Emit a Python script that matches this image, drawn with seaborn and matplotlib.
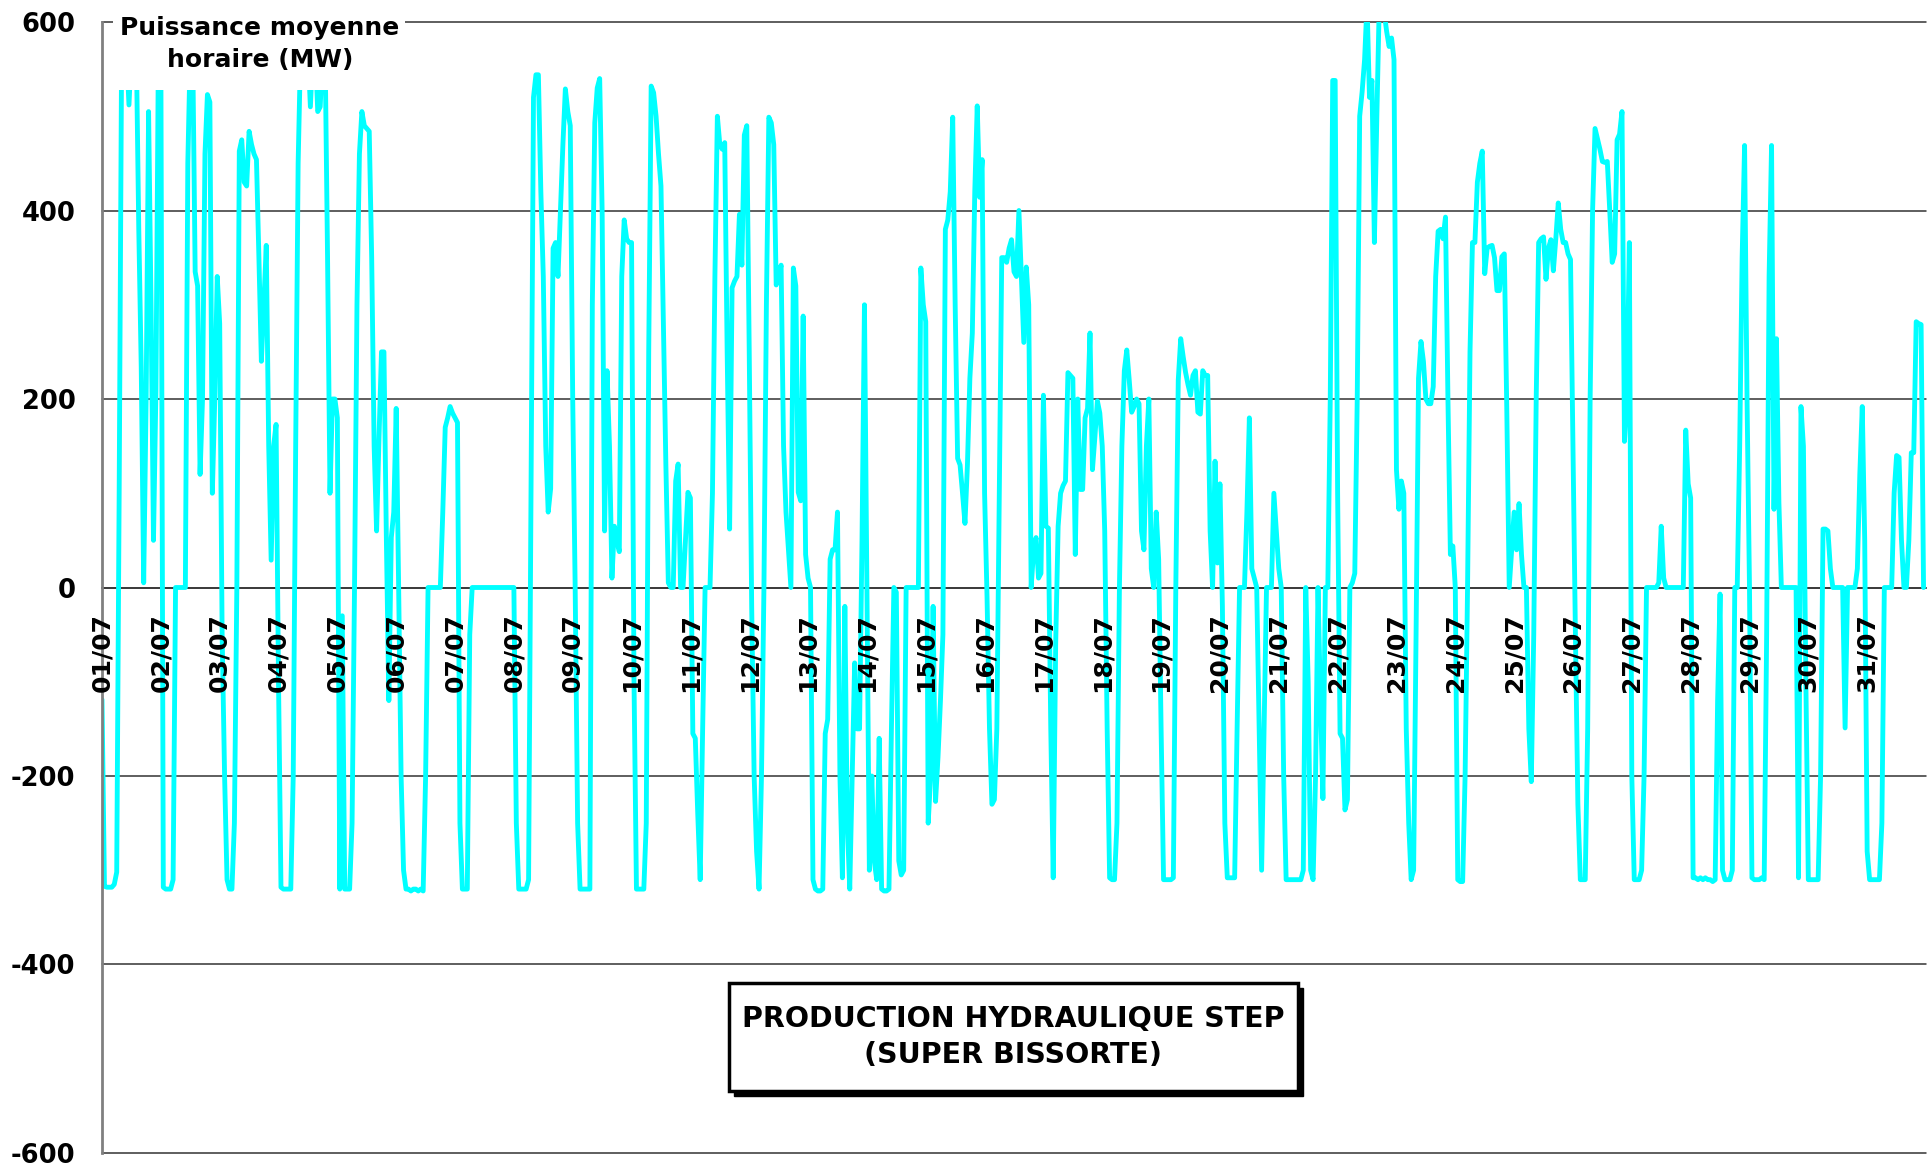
import matplotlib

matplotlib.use("Agg")
import matplotlib.pyplot as plt
import numpy as np
import pandas as pd
import seaborn as sns
from matplotlib.patches import Rectangle

# Hourly mean power (MW), July, one list per day (24 values)
jul01 = [-119, -317, -318, -318, -318, -315, -302, 100, 570, 570, 570, 512,
         570, 570, 570, 380, 234, 5, 200, 505, 300, 50, 210, 570]
jul02 = [570, -318, -320, -320, -320, -310, 0, 0, 0, 0, 0, 450,
         570, 570, 335, 320, 120, 200, 460, 523, 515, 100, 200, 330]
jul03 = [280, -50, -200, -310, -320, -320, -250, 0, 463, 475, 430, 426,
         484, 470, 460, 454, 350, 240, 300, 363, 150, 29, 150, 173]
jul04 = [-100, -318, -320, -320, -320, -320, -200, 150, 450, 570, 570, 570,
         570, 510, 570, 570, 505, 510, 570, 570, 350, 100, 200, 200]
jul05 = [180, -320, -30, -320, -320, -320, -250, 0, 300, 460, 505, 490,
         487, 484, 350, 150, 60, 160, 250, 250, 50, -120, 53, 80]
jul06 = [190, 0, -200, -300, -320, -320, -322, -320, -320, -322, -320, -322,
         -200, 0, 0, 0, 0, 0, 0, 80, 170, 180, 192, 185]
jul07 = [180, 175, -250, -320, -320, -320, -50, 0, 0, 0, 0, 0,
         0, 0, 0, 0, 0, 0, 0, 0, 0, 0, 0, 0]
jul08 = [0, -250, -320, -320, -320, -320, -310, 100, 520, 544, 544, 420,
         330, 150, 80, 105, 360, 366, 330, 400, 470, 529, 505, 490]
jul09 = [200, 0, -250, -320, -320, -320, -320, -320, 300, 493, 530, 540,
         400, 60, 230, 150, 10, 65, 50, 38, 330, 390, 370, 366]
jul10 = [366, -100, -320, -320, -320, -320, -250, 250, 532, 525, 500, 460,
         426, 280, 130, 5, 0, 0, 113, 131, 0, 0, 50, 101]
jul11 = [95, -155, -160, -240, -310, -150, 0, 0, 0, 100, 330, 500,
         470, 465, 472, 250, 62, 318, 325, 330, 396, 342, 480, 490]
jul12 = [250, -20, -200, -280, -320, -200, 0, 300, 499, 493, 470, 321,
         330, 342, 150, 80, 40, 0, 339, 320, 101, 92, 288, 35]
jul13 = [10, 0, -310, -320, -322, -322, -320, -155, -140, 30, 40, 40,
         80, -200, -308, -20, -250, -320, -200, -80, -150, -150, 50, 300]
jul14 = [0, -300, -200, -290, -310, -160, -320, -322, -322, -320, -150, 0,
         -5, -290, -305, -300, 0, 0, 0, 0, 0, 0, 339, 300]
jul15 = [282, -250, -200, -20, -227, -180, -120, -50, 380, 390, 420, 499,
         300, 137, 130, 100, 68, 130, 222, 270, 420, 511, 414, 454]
jul16 = [100, -10, -150, -230, -225, -150, 100, 350, 350, 345, 360, 369,
         335, 330, 400, 330, 260, 340, 300, 0, 40, 53, 10, 15]
jul17 = [204, 65, 63, -150, -308, -60, 65, 100, 108, 113, 228, 225,
         222, 35, 200, 104, 104, 180, 190, 270, 125, 160, 198, 185]
jul18 = [150, 60, -150, -308, -310, -310, -250, 0, 150, 230, 252, 220,
         186, 192, 200, 195, 60, 40, 150, 200, 20, 0, 80, 30]
jul19 = [-150, -310, -310, -310, -310, -308, 0, 220, 264, 245, 228, 215,
         204, 225, 230, 186, 184, 230, 225, 225, 60, 0, 134, 26]
jul20 = [110, -20, -250, -308, -308, -308, -308, -150, 0, 0, 0, 80,
         180, 20, 10, 0, -150, -300, -150, 0, 0, 0, 100, 60]
jul21 = [20, 0, -200, -310, -310, -310, -310, -310, -310, -310, -300, 0,
         -100, -300, -310, -200, 0, -120, -224, 0, 0, 200, 538, 538]
jul22 = [100, -155, -160, -236, -225, 0, 5, 15, 200, 500, 526, 560,
         620, 520, 538, 366, 500, 620, 620, 610, 590, 574, 583, 560]
jul23 = [125, 83, 113, 100, -150, -250, -310, -300, -50, 222, 261, 240,
         200, 195, 195, 213, 330, 378, 380, 370, 393, 200, 35, 44]
jul24 = [0, -310, -312, -312, -200, 0, 250, 366, 366, 430, 450, 463,
         333, 360, 362, 363, 350, 315, 315, 351, 354, 190, 0, 40]
jul25 = [80, 40, 89, 35, 0, 0, -150, -206, -50, 200, 366, 370,
         372, 327, 360, 369, 336, 370, 408, 380, 366, 366, 354, 348]
jul26 = [150, -50, -230, -310, -310, -310, -150, 200, 400, 487, 476, 465,
         452, 451, 452, 400, 345, 354, 475, 481, 505, 155, 200, 366]
jul27 = [-200, -310, -310, -310, -300, -200, 0, 0, 0, 0, 0, 5,
         65, 10, 0, 0, 0, 0, 0, 0, 0, 0, 167, 110]
jul28 = [95, -308, -308, -310, -308, -310, -308, -310, -310, -312, -310, -120,
         -7, -300, -310, -310, -310, -300, 0, 0, 150, 350, 469, 200]
jul29 = [0, -308, -310, -310, -310, -308, -310, -50, 330, 469, 83, 264,
         90, 0, 0, 0, 0, 0, 0, 0, -308, 192, 150, -100]
jul30 = [-310, -310, -310, -310, -310, -200, 62, 62, 60, 20, 0, 0,
         0, 0, 0, -149, 0, 0, 0, 0, 20, 120, 192, 50]
jul31 = [-280, -310, -310, -310, -310, -310, -250, 0, 0, 0, 0, 100,
         140, 138, 50, 0, 0, 50, 143, 143, 282, 280, 279, 0]

days = [jul01, jul02, jul03, jul04, jul05, jul06, jul07, jul08, jul09, jul10,
        jul11, jul12, jul13, jul14, jul15, jul16, jul17, jul18, jul19, jul20,
        jul21, jul22, jul23, jul24, jul25, jul26, jul27, jul28, jul29, jul30,
        jul31]
day_labels = [f"{d:02d}/07" for d in range(1, 32)]
y_ticks = [-600, -400, -200, 0, 200, 400, 600]

power = np.concatenate(days)
df = pd.DataFrame({"hour": np.arange(len(power)), "mw": power})

sns.set_style("white")
plt.rcParams["font.family"] = ["DejaVu Sans"]
plt.rcParams["font.weight"] = "bold"
plt.rcParams["text.color"] = "black"
plt.rcParams["axes.unicode_minus"] = False

fig = plt.figure(figsize=(19.33, 11.76), dpi=100)
ax = fig.add_axes([0.05277, 0.01956, 0.94361, 0.96173])

sns.lineplot(data=df, x="hour", y="mw", color="#00FFFF", linewidth=3.5,
             estimator=None, ax=ax, zorder=2)

ax.set_xlim(0, 24 * len(days))
ax.set_ylim(-600, 600)
ax.set_yticks(y_ticks)
ax.set_yticklabels([str(v) for v in y_ticks])
ax.set_xticks(np.arange(0, 24 * len(days) + 1, 24))
ax.set_xticklabels(day_labels + [""])
ax.set_xlabel("")
ax.set_ylabel("")

# grid below the curve, date labels above it
ax.set_axisbelow(True)
ax.yaxis.grid(True, color="#333333", linewidth=1.1)
ax.xaxis.grid(False)
ax.xaxis.set_zorder(3)
for gl in ax.get_ygridlines():
    gl.set_clip_on(False)

for side in ["top", "right"]:
    ax.spines[side].set_visible(False)
ax.spines["bottom"].set_position(("data", 0))
ax.spines["bottom"].set_color("#333333")
ax.spines["bottom"].set_linewidth(1.1)
ax.spines["bottom"].set_zorder(1)
ax.spines["left"].set_color("#808080")
ax.spines["left"].set_linewidth(2)

ax.tick_params(axis="x", direction="out", length=4.5, width=1.5,
               color="#808080", labelcolor="black", pad=14, labelsize=18,
               labelrotation=90)
ax.tick_params(axis="y", direction="out", length=7, width=1.5,
               color="#808080", labelcolor="black", pad=12, labelsize=18.5)

# axis title in the top-left corner on a white box
ax.add_patch(Rectangle((0.006, 0.94), 0.16, 0.08, transform=ax.transAxes,
                       facecolor="white", edgecolor="none", zorder=5,
                       clip_on=False))
ax.text(0.0866, 0.9805, "Puissance moyenne\nhoraire (MW)", transform=ax.transAxes,
        ha="center", va="center", fontsize=18, fontweight="bold",
        linespacing=1.45, zorder=6, clip_on=False)

# chart title box with shadow
box_x, box_y, box_w, box_h = 0.3437, 0.0548, 0.312, 0.0955
ax.add_patch(Rectangle((box_x + 0.0027, box_y - 0.0044), box_w, box_h,
                       transform=ax.transAxes, facecolor="black",
                       edgecolor="black", zorder=6))
ax.add_patch(Rectangle((box_x, box_y), box_w, box_h, transform=ax.transAxes,
                       facecolor="white", edgecolor="black", linewidth=2.5,
                       zorder=7))
ax.text(box_x + box_w / 2, box_y + box_h / 2,
        "PRODUCTION HYDRAULIQUE STEP\n(SUPER BISSORTE)",
        transform=ax.transAxes, ha="center", va="center", fontsize=20.5,
        fontweight="bold", linespacing=1.4, zorder=8)

fig.savefig("out.png", dpi=100)
plt.close(fig)
